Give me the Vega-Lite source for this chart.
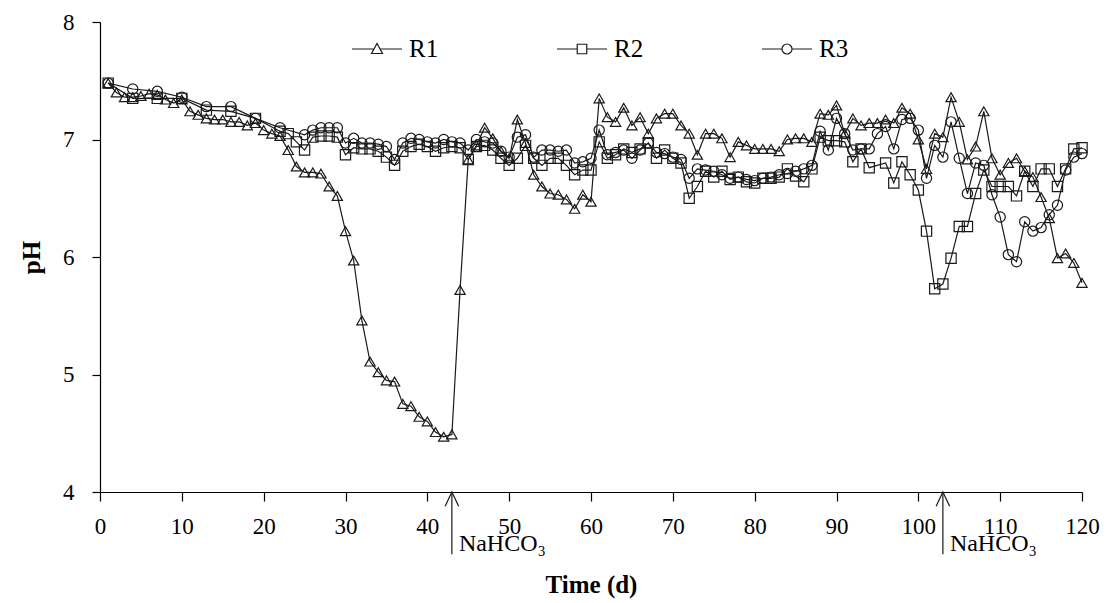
{
  "$schema": "https://vega.github.io/schema/vega-lite/v6.json",
  "width": 982,
  "height": 470,
  "autosize": {"type": "none"},
  "padding": {"left": 100, "top": 22, "right": 24, "bottom": 111},
  "background": "white",
  "config": {
    "view": {"stroke": null},
    "font": "Liberation Serif",
    "axis": {
      "grid": false,
      "domainColor": "#000000",
      "tickColor": "#000000",
      "labelColor": "#000000",
      "titleColor": "#000000",
      "labelFont": "Liberation Serif",
      "titleFont": "Liberation Serif",
      "labelFontSize": 23,
      "titleFontSize": 25,
      "titleFontWeight": "bold",
      "domainWidth": 1.2,
      "tickWidth": 1.2
    }
  },
  "resolve": {"scale": {"shape": "independent"}, "legend": {"shape": "independent"}},
  "datasets": {
    "ph": [
      {"day":1,"series":"R1","pH":7.48},{"day":2,"series":"R1","pH":7.40},{"day":3,"series":"R1","pH":7.36},{"day":4,"series":"R1","pH":7.36},{"day":5,"series":"R1","pH":7.37},{"day":6,"series":"R1","pH":7.39},{"day":7,"series":"R1","pH":7.38},{"day":8,"series":"R1","pH":7.34},{"day":9,"series":"R1","pH":7.31},{"day":10,"series":"R1","pH":7.34},
      {"day":11,"series":"R1","pH":7.24},{"day":12,"series":"R1","pH":7.21},{"day":13,"series":"R1","pH":7.18},{"day":14,"series":"R1","pH":7.17},{"day":15,"series":"R1","pH":7.17},{"day":16,"series":"R1","pH":7.15},{"day":17,"series":"R1","pH":7.15},{"day":18,"series":"R1","pH":7.12},{"day":19,"series":"R1","pH":7.14},{"day":20,"series":"R1","pH":7.08},
      {"day":21,"series":"R1","pH":7.05},{"day":22,"series":"R1","pH":7.03},{"day":23,"series":"R1","pH":6.91},{"day":24,"series":"R1","pH":6.77},{"day":25,"series":"R1","pH":6.72},{"day":26,"series":"R1","pH":6.72},{"day":27,"series":"R1","pH":6.71},{"day":28,"series":"R1","pH":6.60},{"day":29,"series":"R1","pH":6.52},{"day":30,"series":"R1","pH":6.22},
      {"day":31,"series":"R1","pH":5.97},{"day":32,"series":"R1","pH":5.46},{"day":33,"series":"R1","pH":5.11},{"day":34,"series":"R1","pH":5.02},{"day":35,"series":"R1","pH":4.95},{"day":36,"series":"R1","pH":4.94},{"day":37,"series":"R1","pH":4.75},{"day":38,"series":"R1","pH":4.73},{"day":39,"series":"R1","pH":4.64},{"day":40,"series":"R1","pH":4.60},
      {"day":41,"series":"R1","pH":4.51},{"day":42,"series":"R1","pH":4.47},{"day":43,"series":"R1","pH":4.49},{"day":44,"series":"R1","pH":5.72},{"day":45,"series":"R1","pH":6.83},{"day":46,"series":"R1","pH":6.95},{"day":47,"series":"R1","pH":7.10},{"day":48,"series":"R1","pH":7.01},{"day":49,"series":"R1","pH":6.90},{"day":50,"series":"R1","pH":6.84},
      {"day":51,"series":"R1","pH":7.17},{"day":52,"series":"R1","pH":6.97},{"day":53,"series":"R1","pH":6.70},{"day":54,"series":"R1","pH":6.60},{"day":55,"series":"R1","pH":6.54},{"day":56,"series":"R1","pH":6.53},{"day":57,"series":"R1","pH":6.49},{"day":58,"series":"R1","pH":6.41},{"day":59,"series":"R1","pH":6.53},{"day":60,"series":"R1","pH":6.47},
      {"day":61,"series":"R1","pH":7.35},{"day":62,"series":"R1","pH":7.19},{"day":63,"series":"R1","pH":7.15},{"day":64,"series":"R1","pH":7.27},{"day":65,"series":"R1","pH":7.12},{"day":66,"series":"R1","pH":7.19},{"day":67,"series":"R1","pH":7.05},{"day":68,"series":"R1","pH":7.18},{"day":69,"series":"R1","pH":7.22},{"day":70,"series":"R1","pH":7.22},
      {"day":71,"series":"R1","pH":7.12},{"day":72,"series":"R1","pH":7.05},{"day":73,"series":"R1","pH":6.87},{"day":74,"series":"R1","pH":7.05},{"day":75,"series":"R1","pH":7.05},{"day":76,"series":"R1","pH":7.01},{"day":77,"series":"R1","pH":6.85},{"day":78,"series":"R1","pH":6.98},{"day":79,"series":"R1","pH":6.95},{"day":80,"series":"R1","pH":6.92},
      {"day":81,"series":"R1","pH":6.92},{"day":82,"series":"R1","pH":6.92},{"day":83,"series":"R1","pH":6.90},{"day":84,"series":"R1","pH":7.00},{"day":85,"series":"R1","pH":7.01},{"day":86,"series":"R1","pH":7.01},{"day":87,"series":"R1","pH":6.98},{"day":88,"series":"R1","pH":7.22},{"day":89,"series":"R1","pH":7.21},{"day":90,"series":"R1","pH":7.29},
      {"day":91,"series":"R1","pH":7.05},{"day":92,"series":"R1","pH":7.18},{"day":93,"series":"R1","pH":7.12},{"day":94,"series":"R1","pH":7.14},{"day":95,"series":"R1","pH":7.14},{"day":96,"series":"R1","pH":7.17},{"day":97,"series":"R1","pH":7.14},{"day":98,"series":"R1","pH":7.27},{"day":99,"series":"R1","pH":7.22},{"day":100,"series":"R1","pH":7.00},
      {"day":101,"series":"R1","pH":6.75},{"day":102,"series":"R1","pH":7.05},{"day":103,"series":"R1","pH":7.02},{"day":104,"series":"R1","pH":7.36},{"day":105,"series":"R1","pH":7.15},{"day":106,"series":"R1","pH":6.83},{"day":107,"series":"R1","pH":6.94},{"day":108,"series":"R1","pH":7.24},{"day":109,"series":"R1","pH":6.84},{"day":110,"series":"R1","pH":6.70},
      {"day":111,"series":"R1","pH":6.80},{"day":112,"series":"R1","pH":6.84},{"day":113,"series":"R1","pH":6.73},{"day":114,"series":"R1","pH":6.68},{"day":115,"series":"R1","pH":6.51},{"day":116,"series":"R1","pH":6.33},{"day":117,"series":"R1","pH":5.99},{"day":118,"series":"R1","pH":6.03},{"day":119,"series":"R1","pH":5.95},{"day":120,"series":"R1","pH":5.78},

      {"day":1,"series":"R2","pH":7.48},{"day":4,"series":"R2","pH":7.35},{"day":7,"series":"R2","pH":7.35},{"day":10,"series":"R2","pH":7.35},{"day":13,"series":"R2","pH":7.25},{"day":16,"series":"R2","pH":7.24},{"day":19,"series":"R2","pH":7.18},{"day":22,"series":"R2","pH":7.07},
      {"day":23,"series":"R2","pH":7.05},{"day":24,"series":"R2","pH":6.98},{"day":25,"series":"R2","pH":6.91},{"day":26,"series":"R2","pH":7.02},{"day":27,"series":"R2","pH":7.03},{"day":28,"series":"R2","pH":7.03},{"day":29,"series":"R2","pH":7.02},{"day":30,"series":"R2","pH":6.87},
      {"day":31,"series":"R2","pH":6.93},{"day":32,"series":"R2","pH":6.92},{"day":33,"series":"R2","pH":6.92},{"day":34,"series":"R2","pH":6.90},{"day":35,"series":"R2","pH":6.85},{"day":36,"series":"R2","pH":6.78},{"day":37,"series":"R2","pH":6.90},{"day":38,"series":"R2","pH":6.94},{"day":39,"series":"R2","pH":6.96},{"day":40,"series":"R2","pH":6.94},
      {"day":41,"series":"R2","pH":6.90},{"day":42,"series":"R2","pH":6.93},{"day":43,"series":"R2","pH":6.94},{"day":44,"series":"R2","pH":6.93},{"day":45,"series":"R2","pH":6.83},{"day":46,"series":"R2","pH":6.94},{"day":47,"series":"R2","pH":6.95},{"day":48,"series":"R2","pH":6.91},{"day":49,"series":"R2","pH":6.84},{"day":50,"series":"R2","pH":6.78},
      {"day":51,"series":"R2","pH":6.84},{"day":52,"series":"R2","pH":6.95},{"day":53,"series":"R2","pH":6.84},{"day":54,"series":"R2","pH":6.78},{"day":55,"series":"R2","pH":6.84},{"day":56,"series":"R2","pH":6.84},{"day":57,"series":"R2","pH":6.78},{"day":58,"series":"R2","pH":6.70},{"day":59,"series":"R2","pH":6.74},{"day":60,"series":"R2","pH":6.74},
      {"day":61,"series":"R2","pH":6.98},{"day":62,"series":"R2","pH":6.84},{"day":63,"series":"R2","pH":6.87},{"day":64,"series":"R2","pH":6.92},{"day":65,"series":"R2","pH":6.89},{"day":66,"series":"R2","pH":6.92},{"day":67,"series":"R2","pH":6.97},{"day":68,"series":"R2","pH":6.84},{"day":69,"series":"R2","pH":6.91},{"day":70,"series":"R2","pH":6.84},
      {"day":71,"series":"R2","pH":6.80},{"day":72,"series":"R2","pH":6.50},{"day":73,"series":"R2","pH":6.60},{"day":74,"series":"R2","pH":6.73},{"day":75,"series":"R2","pH":6.68},{"day":76,"series":"R2","pH":6.73},{"day":77,"series":"R2","pH":6.66},{"day":78,"series":"R2","pH":6.68},{"day":79,"series":"R2","pH":6.64},{"day":80,"series":"R2","pH":6.63},
      {"day":81,"series":"R2","pH":6.67},{"day":82,"series":"R2","pH":6.67},{"day":83,"series":"R2","pH":6.68},{"day":84,"series":"R2","pH":6.75},{"day":85,"series":"R2","pH":6.69},{"day":86,"series":"R2","pH":6.64},{"day":87,"series":"R2","pH":6.75},{"day":88,"series":"R2","pH":7.02},{"day":89,"series":"R2","pH":6.99},{"day":90,"series":"R2","pH":6.99},
      {"day":91,"series":"R2","pH":6.98},{"day":92,"series":"R2","pH":6.81},{"day":93,"series":"R2","pH":6.92},{"day":94,"series":"R2","pH":6.76},{"day":96,"series":"R2","pH":6.80},{"day":97,"series":"R2","pH":6.63},{"day":98,"series":"R2","pH":6.81},{"day":99,"series":"R2","pH":6.70},{"day":100,"series":"R2","pH":6.57},
      {"day":101,"series":"R2","pH":6.22},{"day":102,"series":"R2","pH":5.73},{"day":103,"series":"R2","pH":5.77},{"day":104,"series":"R2","pH":5.99},{"day":105,"series":"R2","pH":6.26},{"day":106,"series":"R2","pH":6.26},{"day":107,"series":"R2","pH":6.54},{"day":108,"series":"R2","pH":6.74},{"day":109,"series":"R2","pH":6.60},{"day":110,"series":"R2","pH":6.60},
      {"day":111,"series":"R2","pH":6.60},{"day":112,"series":"R2","pH":6.52},{"day":113,"series":"R2","pH":6.73},{"day":114,"series":"R2","pH":6.60},{"day":115,"series":"R2","pH":6.75},{"day":116,"series":"R2","pH":6.75},{"day":117,"series":"R2","pH":6.60},{"day":118,"series":"R2","pH":6.75},{"day":119,"series":"R2","pH":6.92},{"day":120,"series":"R2","pH":6.93},

      {"day":1,"series":"R3","pH":7.48},{"day":4,"series":"R3","pH":7.43},{"day":7,"series":"R3","pH":7.41},{"day":10,"series":"R3","pH":7.36},{"day":13,"series":"R3","pH":7.28},{"day":16,"series":"R3","pH":7.28},{"day":19,"series":"R3","pH":7.18},{"day":22,"series":"R3","pH":7.10},
      {"day":25,"series":"R3","pH":7.04},{"day":26,"series":"R3","pH":7.08},{"day":27,"series":"R3","pH":7.10},{"day":28,"series":"R3","pH":7.10},{"day":29,"series":"R3","pH":7.10},{"day":30,"series":"R3","pH":6.97},
      {"day":31,"series":"R3","pH":7.01},{"day":32,"series":"R3","pH":6.97},{"day":33,"series":"R3","pH":6.97},{"day":34,"series":"R3","pH":6.96},{"day":35,"series":"R3","pH":6.94},{"day":36,"series":"R3","pH":6.83},{"day":37,"series":"R3","pH":6.97},{"day":38,"series":"R3","pH":7.01},{"day":39,"series":"R3","pH":7.00},{"day":40,"series":"R3","pH":6.98},
      {"day":41,"series":"R3","pH":6.97},{"day":42,"series":"R3","pH":7.00},{"day":43,"series":"R3","pH":6.98},{"day":44,"series":"R3","pH":6.97},{"day":45,"series":"R3","pH":6.91},{"day":46,"series":"R3","pH":7.00},{"day":47,"series":"R3","pH":6.98},{"day":48,"series":"R3","pH":6.97},{"day":49,"series":"R3","pH":6.90},{"day":50,"series":"R3","pH":6.85},
      {"day":51,"series":"R3","pH":7.02},{"day":52,"series":"R3","pH":7.04},{"day":53,"series":"R3","pH":6.85},{"day":54,"series":"R3","pH":6.91},{"day":55,"series":"R3","pH":6.91},{"day":56,"series":"R3","pH":6.90},{"day":57,"series":"R3","pH":6.91},{"day":58,"series":"R3","pH":6.80},{"day":59,"series":"R3","pH":6.81},{"day":60,"series":"R3","pH":6.84},
      {"day":61,"series":"R3","pH":7.08},{"day":62,"series":"R3","pH":6.87},{"day":63,"series":"R3","pH":6.89},{"day":64,"series":"R3","pH":6.91},{"day":65,"series":"R3","pH":6.84},{"day":66,"series":"R3","pH":6.91},{"day":67,"series":"R3","pH":6.97},{"day":68,"series":"R3","pH":6.89},{"day":69,"series":"R3","pH":6.88},{"day":70,"series":"R3","pH":6.85},
      {"day":71,"series":"R3","pH":6.83},{"day":72,"series":"R3","pH":6.67},{"day":73,"series":"R3","pH":6.75},{"day":74,"series":"R3","pH":6.74},{"day":75,"series":"R3","pH":6.73},{"day":76,"series":"R3","pH":6.70},{"day":77,"series":"R3","pH":6.67},{"day":78,"series":"R3","pH":6.68},{"day":79,"series":"R3","pH":6.66},{"day":80,"series":"R3","pH":6.65},
      {"day":81,"series":"R3","pH":6.67},{"day":82,"series":"R3","pH":6.68},{"day":83,"series":"R3","pH":6.70},{"day":84,"series":"R3","pH":6.71},{"day":85,"series":"R3","pH":6.73},{"day":86,"series":"R3","pH":6.75},{"day":87,"series":"R3","pH":6.78},{"day":88,"series":"R3","pH":7.07},{"day":89,"series":"R3","pH":6.91},{"day":90,"series":"R3","pH":7.18},
      {"day":91,"series":"R3","pH":7.05},{"day":92,"series":"R3","pH":6.91},{"day":93,"series":"R3","pH":6.92},{"day":94,"series":"R3","pH":6.92},{"day":95,"series":"R3","pH":7.05},{"day":96,"series":"R3","pH":7.11},{"day":97,"series":"R3","pH":6.92},{"day":98,"series":"R3","pH":7.17},{"day":99,"series":"R3","pH":7.18},{"day":100,"series":"R3","pH":7.08},
      {"day":101,"series":"R3","pH":6.67},{"day":102,"series":"R3","pH":6.95},{"day":103,"series":"R3","pH":6.85},{"day":104,"series":"R3","pH":7.15},{"day":105,"series":"R3","pH":6.84},{"day":106,"series":"R3","pH":6.54},{"day":107,"series":"R3","pH":6.80},{"day":108,"series":"R3","pH":6.78},{"day":109,"series":"R3","pH":6.53},{"day":110,"series":"R3","pH":6.34},
      {"day":111,"series":"R3","pH":6.02},{"day":112,"series":"R3","pH":5.96},{"day":113,"series":"R3","pH":6.30},{"day":114,"series":"R3","pH":6.22},{"day":115,"series":"R3","pH":6.25},{"day":116,"series":"R3","pH":6.36},{"day":117,"series":"R3","pH":6.44},{"day":118,"series":"R3","pH":6.74},{"day":119,"series":"R3","pH":6.85},{"day":120,"series":"R3","pH":6.88}
    ],
    "notes": [
      {"day": 43, "label": "NaHCO₃"},
      {"day": 103, "label": "NaHCO₃"}
    ]
  },
  "layer": [
    {
      "data": {"name": "ph"},
      "mark": {"type": "line", "color": "#1a1a1a", "strokeWidth": 1.2},
      "encoding": {
        "x": {
          "field": "day", "type": "quantitative",
          "scale": {"domain": [0, 120], "nice": false},
          "axis": {"values": [0,10,20,30,40,50,60,70,80,90,100,110,120], "title": "Time (d)", "tickSize": 9, "labelPadding": 14, "titlePadding": 34, "labelFlush": false}
        },
        "y": {
          "field": "pH", "type": "quantitative",
          "scale": {"domain": [4, 8], "nice": false, "zero": false},
          "axis": {"values": [4,5,6,7,8], "format": "d", "title": "pH", "tickSize": 8, "labelPadding": 18, "titlePadding": 18}
        },
        "detail": {"field": "series", "type": "nominal"}
      }
    },
    {
      "data": {"name": "ph"},
      "mark": {"type": "point", "filled": false, "color": "#1a1a1a", "strokeWidth": 1.2, "opacity": 1, "size": 105},
      "encoding": {
        "x": {"field": "day", "type": "quantitative"},
        "y": {"field": "pH", "type": "quantitative"},
        "shape": {
          "field": "series", "type": "nominal",
          "scale": {"domain": ["R1","R2","R3"], "range": ["triangle-up", "square", "circle"]},
          "legend": null
        }
      }
    },
    {
      "data": {"name": "ph"},
      "transform": [{"filter": "false"}],
      "mark": {"type": "point", "filled": false, "color": "#1a1a1a", "strokeWidth": 1.2, "opacity": 1},
      "encoding": {
        "x": {"field": "day", "type": "quantitative"},
        "y": {"field": "pH", "type": "quantitative"},
        "shape": {
          "field": "series", "type": "nominal",
          "scale": {
            "domain": ["R1","R2","R3"],
            "range": [
              "M-1,0H-0.12M0.12,0H1M0,-0.22L0.22,0.18L-0.22,0.18Z",
              "M-1,0H-0.19M0.19,0H1M-0.19,-0.19H0.19V0.19H-0.19Z",
              "M-1,0H-0.2M0.2,0H1M0.2,0A0.2,0.2 0 1 1 -0.2,0A0.2,0.2 0 1 1 0.2,0Z"
            ]
          },
          "legend": {
            "title": null,
            "orient": "none",
            "direction": "horizontal",
            "columns": 3,
            "legendX": 251,
            "legendY": 1,
            "padding": 0,
            "columnPadding": 115,
            "symbolSize": 2500,
            "symbolStrokeColor": "#1a1a1a",
            "symbolFillColor": "transparent",
            "symbolStrokeWidth": 1.2,
            "symbolOpacity": 1,
            "labelFont": "Liberation Serif",
            "labelFontSize": 25,
            "labelColor": "#000000",
            "labelOffset": 6
          }
        }
      }
    },
    {
      "data": {"name": "notes"},
      "mark": {"type": "rule", "color": "#1a1a1a", "strokeWidth": 1.2},
      "encoding": {
        "x": {"field": "day", "type": "quantitative"},
        "y": {"datum": 4},
        "y2": {"datum": 3.47}
      }
    },
    {
      "data": {"name": "notes"},
      "mark": {"type": "point", "shape": "M-0.45,0.95L0,0L0.45,0.95", "filled": false, "color": "#1a1a1a", "strokeWidth": 1.2, "size": 900, "opacity": 1},
      "encoding": {
        "x": {"field": "day", "type": "quantitative"},
        "y": {"datum": 4}
      }
    },
    {
      "data": {"name": "notes"},
      "mark": {"type": "text", "align": "left", "baseline": "alphabetic", "dx": 7, "font": "Liberation Serif", "fontSize": 24, "color": "#000000"},
      "encoding": {
        "x": {"field": "day", "type": "quantitative"},
        "y": {"datum": 3.5},
        "text": {"field": "label"}
      }
    }
  ]
}
